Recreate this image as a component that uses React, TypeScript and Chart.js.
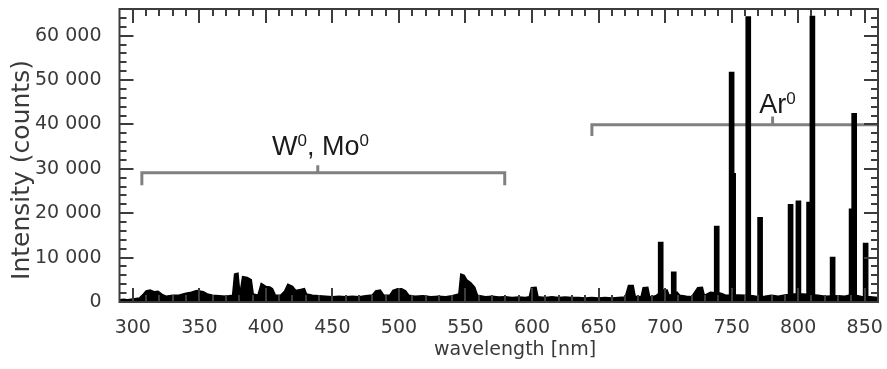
import React, { useEffect, useRef } from 'react';
import { Chart, registerables } from 'chart.js';
Chart.register(...registerables);

// ---- data ----
// continuum / weak structure of the spectrum
const CONT_WL = [290, 293, 296, 300, 305, 308, 310, 313, 316, 319, 322, 325, 330, 335, 340, 344, 348, 350, 353, 356, 360, 365, 370, 375, 376.5, 379, 380.5, 382.5, 386, 389, 390.5, 394, 396.5, 400, 403, 405, 407, 411, 414, 416.5, 420, 422.5, 426, 429, 430.5, 435, 440, 445, 450, 455, 460, 465, 470, 475, 480, 482.5, 486, 488.5, 493, 495.5, 499, 502, 505, 507.5, 512, 518, 524, 530, 535, 540, 545, 546.5, 549, 551, 554, 557, 559, 565, 570, 575, 580, 585, 590, 595, 598, 599.5, 603, 604.5, 610, 615, 620, 625, 630, 635, 640, 645, 650, 655, 660, 665, 670, 672.5, 676, 677.5, 682, 683.5, 687, 688.5, 693, 698.5, 701.5, 703, 709, 711, 716, 720, 724.5, 728, 729.5, 734, 742, 746, 755, 760, 766, 770, 775, 780, 785, 790, 797, 804, 815, 820, 830, 835, 838, 845, 848, 854, 860];
const CONT_I = [500, 600, 500, 700, 900, 1800, 2500, 2700, 2300, 2400, 1700, 1300, 1500, 1600, 2000, 2200, 2600, 2500, 2300, 1800, 1500, 1400, 1300, 1500, 6300, 6500, 1800, 5700, 5500, 5000, 1800, 1500, 4200, 3500, 3400, 3000, 1600, 1500, 2400, 4000, 3500, 2600, 2800, 3000, 1800, 1500, 1400, 1300, 1200, 1300, 1200, 1300, 1200, 1400, 1600, 2500, 2700, 1600, 1500, 2600, 3000, 3000, 2500, 1500, 1300, 1400, 1200, 1300, 1200, 1400, 1800, 6300, 6000, 5000, 4300, 3300, 1500, 1200, 1300, 1100, 1200, 1000, 1100, 1000, 1200, 3200, 3300, 1200, 1000, 1200, 1000, 1100, 1000, 1000, 900, 1000, 900, 1000, 900, 1000, 1100, 3700, 3700, 1300, 1200, 3200, 3300, 1100, 1400, 2700, 2700, 1500, 2200, 1500, 1300, 1200, 3200, 3300, 1500, 2200, 2000, 1500, 1600, 1500, 1400, 1200, 1300, 1500, 1300, 1600, 1800, 1800, 1500, 1300, 1400, 1300, 1500, 1400, 1200, 1200, 1000];

// strong emission lines
const LINE_WL = [696.7, 706.5, 738.8, 750.0, 762.5, 771.4, 794.3, 800.2, 808.2, 810.7, 825.9, 842.1, 850.7];
const LINE_I = [13500, 6800, 17100, 51800, 64300, 19100, 22000, 22800, 22500, 64400, 10100, 42500, 13300];
// weaker lines sitting next to strong ones
const SIDE_WL = [751.9, 839.4];
const SIDE_I = [29000, 21000];

// axes
const X_MIN = 290;
const X_MAX = 860;
const Y_MIN = 0;
const Y_MAX = 66000;
const X_TICKS = [300, 350, 400, 450, 500, 550, 600, 650, 700, 750, 800, 850];
const Y_TICKS = [0, 10000, 20000, 30000, 40000, 50000, 60000];
const X_STEP = 50;
const X_MINOR = 10;
const Y_STEP = 10000;
const Y_MINOR = 2000;
const X_TITLE = 'wavelength [nm]';
const Y_TITLE = 'Intensity (counts)';

// group brackets
const W_BRACKET_X = [306.8, 306.8, 579.5, 579.5];
const W_BRACKET_Y = [26300, 29100, 29100, 26300];
const W_MARK_X = [439, 439];
const W_MARK_Y = [29100, 30800];
const AR_BRACKET_X = [645, 645, 860];
const AR_BRACKET_Y = [37400, 39900, 39900];
const AR_MARK_X = [780.8, 780.8];
const AR_MARK_Y = [39900, 41800];

// labels: [text, isSuperscript]
const W_LABEL: [string, boolean][] = [['W', false], ['0', true], [', Mo', false], ['0', true]];
const W_LABEL_POS = { x: 441, y: 33100 };
const AR_LABEL: [string, boolean][] = [['Ar', false], ['0', true]];
const AR_LABEL_POS = { x: 784.5, y: 42600 };

const pts = (xs: number[], ys: number[]) => xs.map((x, i) => ({ x, y: ys[i] }));
const fmt = (v: number) => String(v).replace(/\B(?=(\d{3})+(?!\d))/g, ' ');
const FONT = '"DejaVu Sans", Verdana, sans-serif';

const framePlugin = {
  id: 'frame',
  afterDraw(chart: any) {
    const { ctx, chartArea: a, scales } = chart;
    const xs = scales.x, ys = scales.y;
    ctx.save();
    ctx.strokeStyle = '#3c3c3c';
    ctx.lineWidth = 2;
    ctx.beginPath();
    for (let v = X_MIN + X_MINOR; v < X_MAX; v += X_MINOR) {
      const px = Math.round(xs.getPixelForValue(v));
      const len = v % X_STEP === 0 ? 14 : 7;
      ctx.moveTo(px, a.bottom); ctx.lineTo(px, a.bottom - len);
      ctx.moveTo(px, a.top); ctx.lineTo(px, a.top + len);
    }
    for (let v = Y_MIN + Y_MINOR; v < Y_MAX; v += Y_MINOR) {
      const py = Math.round(ys.getPixelForValue(v));
      const len = v % Y_STEP === 0 ? 14 : 7;
      ctx.moveTo(a.left, py); ctx.lineTo(a.left + len, py);
      ctx.moveTo(a.right, py); ctx.lineTo(a.right - len, py);
    }
    ctx.stroke();
    ctx.strokeRect(a.left, a.top, a.right - a.left, a.bottom - a.top);

    // axis titles
    ctx.fillStyle = '#3a3a3a';
    ctx.textAlign = 'center';
    ctx.textBaseline = 'middle';
    ctx.font = `19px ${FONT}`;
    ctx.fillText(X_TITLE, 515, 350);
    ctx.translate(22, 170);
    ctx.rotate(-Math.PI / 2);
    ctx.font = `25px ${FONT}`;
    ctx.fillText(Y_TITLE, 0, 0);
    ctx.restore();
  },
};

const labelPlugin = {
  id: 'groupLabels',
  afterDatasetsDraw(chart: any) {
    const { ctx, scales } = chart;
    const draw = (parts: [string, boolean][], pos: { x: number; y: number }) => {
      const big = '27px "Liberation Sans", Arial, sans-serif';
      const small = '17px "Liberation Sans", Arial, sans-serif';
      let total = 0;
      for (const [t, sup] of parts) { ctx.font = sup ? small : big; total += ctx.measureText(t).width; }
      let x = scales.x.getPixelForValue(pos.x) - total / 2;
      const y = scales.y.getPixelForValue(pos.y);
      ctx.fillStyle = '#1a1a1a';
      ctx.textBaseline = 'alphabetic';
      ctx.textAlign = 'left';
      for (const [t, sup] of parts) {
        ctx.font = sup ? small : big;
        ctx.fillText(t, x, sup ? y - 9 : y);
        x += ctx.measureText(t).width;
      }
    };
    ctx.save();
    draw(W_LABEL, W_LABEL_POS);
    draw(AR_LABEL, AR_LABEL_POS);
    ctx.restore();
  },
};

export default function App() {
  const ref = useRef<HTMLCanvasElement | null>(null);
  useEffect(() => {
    if (!ref.current) return;
    const tickFont = { family: FONT, size: 19 };
    const grey = '#808080';
    const chart = new Chart(ref.current, {
      type: 'line',
      data: {
        datasets: [
          { type: 'bar', data: pts(LINE_WL, LINE_I), backgroundColor: '#000', barThickness: 5, grouped: false, order: 1 } as any,
          { type: 'bar', data: pts(SIDE_WL, SIDE_I), backgroundColor: '#000', barThickness: 3, grouped: false, order: 1 } as any,
          { type: 'line', data: pts(CONT_WL, CONT_I), borderColor: '#000', backgroundColor: '#000', borderWidth: 1.5, fill: 'origin', pointRadius: 0, tension: 0, order: 2 },
          { type: 'line', data: pts(W_BRACKET_X, W_BRACKET_Y), borderColor: grey, borderWidth: 3, fill: false, pointRadius: 0, order: 3 },
          { type: 'line', data: pts(W_MARK_X, W_MARK_Y), borderColor: grey, borderWidth: 3, fill: false, pointRadius: 0, order: 3 },
          { type: 'line', data: pts(AR_BRACKET_X, AR_BRACKET_Y), borderColor: grey, borderWidth: 3, fill: false, pointRadius: 0, order: 3 },
          { type: 'line', data: pts(AR_MARK_X, AR_MARK_Y), borderColor: grey, borderWidth: 3, fill: false, pointRadius: 0, order: 3 },
        ],
      },
      options: {
        animation: false,
        responsive: false,
        events: [],
        layout: { padding: { top: 9, right: 9, left: 0, bottom: 0 } },
        plugins: { legend: { display: false }, tooltip: { enabled: false } },
        scales: {
          x: {
            type: 'linear', min: X_MIN, max: X_MAX, offset: false,
            grid: { display: false, drawTicks: false }, border: { display: false },
            ticks: { padding: 15, color: '#3a3a3a', font: tickFont, maxRotation: 0, autoSkip: false },
            afterBuildTicks: (s: any) => { s.ticks = X_TICKS.map((value) => ({ value })); },
            afterFit: (s: any) => { s.height = 67; s.paddingLeft = 0; s.paddingRight = 0; },
          },
          y: {
            type: 'linear', min: Y_MIN, max: Y_MAX,
            grid: { display: false, drawTicks: false }, border: { display: false },
            ticks: { padding: 18, color: '#3a3a3a', font: tickFont, autoSkip: false, callback: (v: any) => fmt(Number(v)) },
            afterBuildTicks: (s: any) => { s.ticks = Y_TICKS.map((value) => ({ value })); },
            afterFit: (s: any) => { s.width = 119.5; s.paddingTop = 0; s.paddingBottom = 0; },
          },
        },
      } as any,
      plugins: [framePlugin, labelPlugin],
    });
    return () => chart.destroy();
  }, []);
  return (
    <div style={{ position: 'absolute', left: 0, top: 0, width: 887, height: 369, background: '#fff' }}>
      <canvas ref={ref} width={887} height={369} style={{ width: 887, height: 369, display: 'block' }} />
    </div>
  );
}
